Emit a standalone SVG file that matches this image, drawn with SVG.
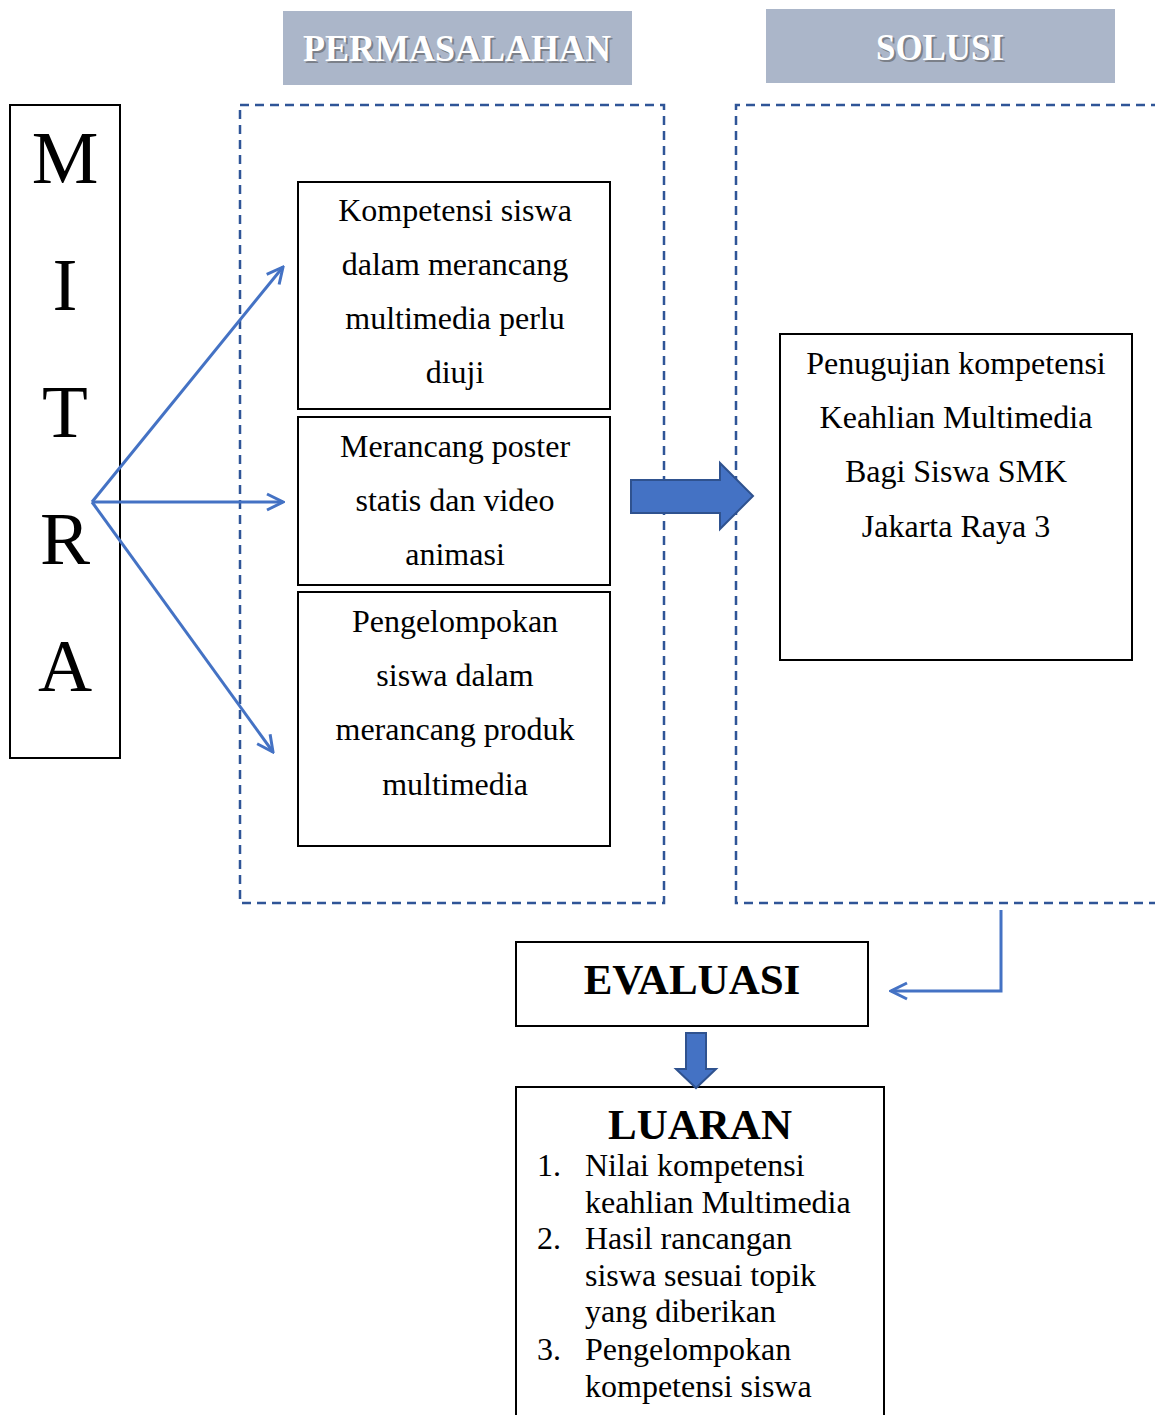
<svg xmlns="http://www.w3.org/2000/svg" width="1155" height="1415" viewBox="0 0 1155 1415">
<defs>
<style>
.box{fill:#fff;stroke:#000;stroke-width:2}
.dash{fill:none;stroke:#2f5597;stroke-width:2.5;stroke-dasharray:9 6}
.hdr{fill:#abb6c9}
.ht{font-family:"Liberation Serif",serif;font-weight:bold;font-size:37px;fill:#fff;text-anchor:middle}
.hs{font-family:"Liberation Serif",serif;font-weight:bold;font-size:37px;fill:#555;opacity:.55;text-anchor:middle}
.t{font-family:"Liberation Serif",serif;font-size:32px;fill:#000;text-anchor:middle}
.l{font-family:"Liberation Serif",serif;font-size:32px;fill:#000}
.b{font-family:"Liberation Serif",serif;font-weight:bold;font-size:43px;fill:#000;text-anchor:middle}
.m{font-family:"Liberation Serif",serif;font-size:75px;fill:#000;text-anchor:middle}
.con{fill:none;stroke:#4472c4;stroke-width:3}
.blk{fill:#4472c4;stroke:#2f528f;stroke-width:2}
</style>
<marker id="open" viewBox="0 0 20 20" refX="18" refY="10" markerWidth="20" markerHeight="20" markerUnits="userSpaceOnUse" orient="auto">
<path d="M2,2 L18,10 L2,18" fill="none" stroke="#4472c4" stroke-width="3"/>
</marker>
</defs>

<g id="hdr-permasalahan">
<rect class="hdr" x="283" y="11" width="349" height="74"/>
<text class="hs" x="459" y="63" textLength="308" lengthAdjust="spacingAndGlyphs">PERMASALAHAN</text>
<text class="ht" x="457" y="61" textLength="308" lengthAdjust="spacingAndGlyphs">PERMASALAHAN</text>
</g>
<g id="hdr-solusi">
<rect class="hdr" x="766" y="9" width="349" height="74"/>
<text class="hs" x="942" y="62" textLength="128" lengthAdjust="spacingAndGlyphs">SOLUSI</text>
<text class="ht" x="940" y="60" textLength="128" lengthAdjust="spacingAndGlyphs">SOLUSI</text>
</g>

<g id="mitra">
<rect class="box" x="10" y="105" width="110" height="653"/>
<text class="m" x="65" y="183">M</text>
<text class="m" x="65" y="310">I</text>
<text class="m" x="65" y="437">T</text>
<text class="m" x="65" y="564">R</text>
<text class="m" x="65" y="691">A</text>
</g>

<g id="area-permasalahan">
<rect class="dash" x="240" y="105" width="424" height="798"/>
</g>
<g id="area-solusi">
<path class="dash" d="M1160,105 H736 V903 H1160"/>
</g>

<g id="p1">
<rect class="box" x="298" y="182" width="312" height="227"/>
<text class="t" x="455" y="221">Kompetensi siswa</text>
<text class="t" x="455" y="275">dalam merancang</text>
<text class="t" x="455" y="329">multimedia perlu</text>
<text class="t" x="455" y="383">diuji</text>
</g>
<g id="p2">
<rect class="box" x="298" y="417" width="312" height="168"/>
<text class="t" x="455" y="457">Merancang poster</text>
<text class="t" x="455" y="511">statis dan video</text>
<text class="t" x="455" y="565">animasi</text>
</g>
<g id="p3">
<rect class="box" x="298" y="592" width="312" height="254"/>
<text class="t" x="455" y="632">Pengelompokan</text>
<text class="t" x="455" y="686">siswa dalam</text>
<text class="t" x="455" y="740">merancang produk</text>
<text class="t" x="455" y="795">multimedia</text>
</g>

<g id="solusi">
<rect class="box" x="780" y="334" width="352" height="326"/>
<text class="t" x="956" y="374">Penugujian kompetensi</text>
<text class="t" x="956" y="428">Keahlian Multimedia</text>
<text class="t" x="956" y="482">Bagi Siswa SMK</text>
<text class="t" x="956" y="537">Jakarta Raya 3</text>
</g>

<g id="evaluasi">
<rect class="box" x="516" y="942" width="352" height="84"/>
<text class="b" x="692" y="994">EVALUASI</text>
</g>

<g id="luaran">
<rect class="box" x="516" y="1087" width="368" height="340"/>
<text class="b" x="700" y="1139">LUARAN</text>
<text class="l" x="537" y="1176">1.</text>
<text class="l" x="585" y="1176">Nilai kompetensi</text>
<text class="l" x="585" y="1213">keahlian Multimedia</text>
<text class="l" x="537" y="1249">2.</text>
<text class="l" x="585" y="1249">Hasil rancangan</text>
<text class="l" x="585" y="1286">siswa sesuai topik</text>
<text class="l" x="585" y="1322">yang diberikan</text>
<text class="l" x="537" y="1360">3.</text>
<text class="l" x="585" y="1360">Pengelompokan</text>
<text class="l" x="585" y="1397">kompetensi siswa</text>
</g>

<g id="connectors">
<line class="con" x1="92" y1="502" x2="283" y2="267" marker-end="url(#open)"/>
<line class="con" x1="92" y1="502" x2="283" y2="502" marker-end="url(#open)"/>
<line class="con" x1="92" y1="502" x2="273" y2="752" marker-end="url(#open)"/>
<path class="blk" d="M631,480 H720 V463 L753,496 L720,529 V513 H631 Z"/>
<path class="con" d="M1001,910 V991 H891" marker-end="url(#open)"/>
<path class="blk" d="M686,1033 H706 V1069 H716 L696,1088 L676,1069 H686 Z"/>
</g>
</svg>
